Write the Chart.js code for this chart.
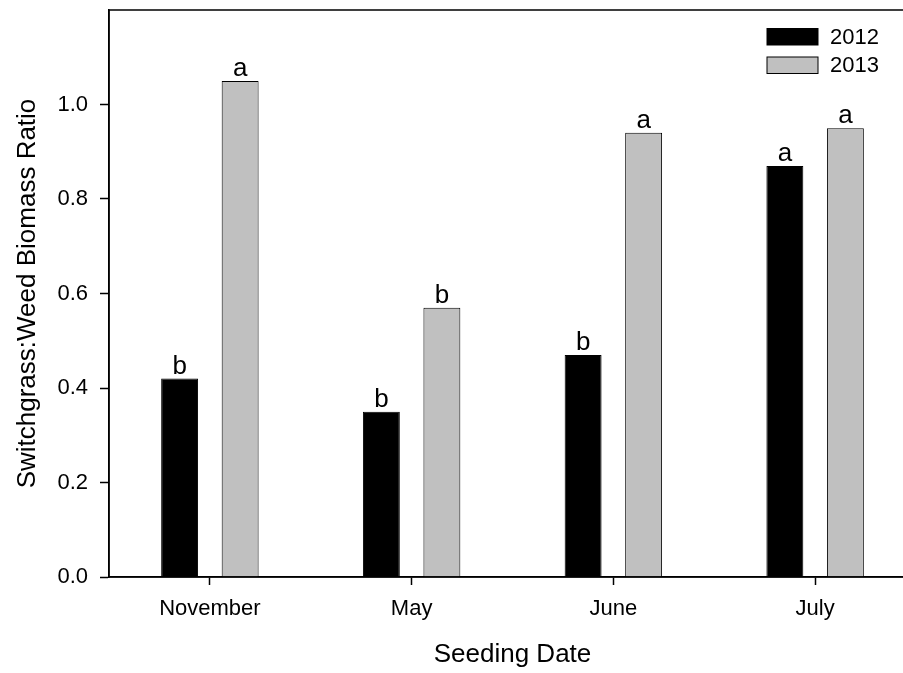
<!DOCTYPE html>
<html>
<head>
<meta charset="utf-8">
<script src="https://cdn.jsdelivr.net/npm/chart.js@4"></script>
<style>
  html, body { margin: 0; padding: 0; overflow: hidden; background: #fff; }
  canvas { display: block; }
</style>
</head>
<body>
<canvas id="myChart" width="920" height="673"></canvas>
<script>
const categories = ["November", "May", "June", "July"];
const values2012 = [0.42, 0.35, 0.47, 0.87];
const values2013 = [1.05, 0.57, 0.94, 0.95];
const letters2012 = ["b", "b", "b", "a"];
const letters2013 = ["a", "b", "a", "a"];
const yTicks = [0, 0.2, 0.4, 0.6, 0.8, 1.0];

const FONT = "'Liberation Sans', Arial, Helvetica, sans-serif";
const ctx = document.getElementById("myChart");

// letters over each bar + a small legend up in the corner + plot box
const extras = {
  id: "extras",
  afterDatasetsDraw(chart) {
    const c = chart.ctx;
    const letters = [letters2012, letters2013];
    c.save();
    c.fillStyle = "#000";
    c.font = "26px " + FONT;
    c.textAlign = "center";
    c.textBaseline = "alphabetic";
    chart.data.datasets.forEach((ds, i) => {
      chart.getDatasetMeta(i).data.forEach((bar, j) => {
        c.fillText(letters[i][j], bar.x, bar.y - 5);
      });
    });

    // plot frame
    const a = chart.chartArea;
    c.strokeStyle = "#000";
    c.lineWidth = 1.5;
    c.strokeRect(a.left, a.top, a.right - a.left, a.bottom - a.top);

    // legend
    c.font = "22px " + FONT;
    c.textAlign = "left";
    c.textBaseline = "middle";
    chart.data.datasets.forEach((ds, i) => {
      const y = 28.5 + i * 28.5;
      c.fillStyle = ds.backgroundColor;
      c.fillRect(767, y, 51, 16.5);
      c.lineWidth = 1;
      c.strokeStyle = "#000";
      c.strokeRect(767, y, 51, 16.5);
      c.fillStyle = "#000";
      c.fillText(ds.label, 830, y + 9);
    });
    c.restore();
  }
};

function createChart(type = "bar") {
  return new Chart(ctx, {
    type: type,
    data: {
      labels: categories,
      datasets: [
        {
          label: "2012",
          data: values2012,
          backgroundColor: "#000000",
          borderColor: "#000000",
          borderWidth: 1,
        },
        {
          label: "2013",
          data: values2013,
          backgroundColor: "#c0c0c0",
          borderColor: "#000000",
          borderWidth: 1,
        },
      ],
    },
    options: {
      responsive: false,
      animation: false,
      categoryPercentage: 0.6,
      barPercentage: 0.61,
      layout: { padding: { top: 10, right: 4, left: 0, bottom: 0 } },
      plugins: {
        legend: { display: false },
        tooltip: { enabled: false },
      },
      scales: {
        x: {
          afterFit: (s) => { s.height = 96; s.paddingLeft = 0; s.paddingRight = 0; },
          grid: {
            offset: false,
            drawOnChartArea: false,
            tickLength: 8,
            tickWidth: 1.5,
            tickColor: "#000",
          },
          border: { color: "#000", width: 1.5 },
          ticks: { color: "#000", font: { family: FONT, size: 22 }, padding: 11 },
          title: {
            display: true,
            text: "Seeding Date",
            color: "#000",
            font: { family: FONT, size: 26 },
            padding: { top: 0, bottom: 3 },
          },
        },
        y: {
          min: 0,
          max: 1.2,
          afterFit: (s) => { s.width = 109; s.paddingTop = 0; s.paddingBottom = 0; },
          afterBuildTicks: (s) => { s.ticks = yTicks.map((v) => ({ value: v })); },
          grid: {
            drawOnChartArea: false,
            tickLength: 9,
            tickWidth: 1.5,
            tickColor: "#000",
          },
          border: { color: "#000", width: 1.5 },
          ticks: {
            color: "#000",
            font: { family: FONT, size: 22 },
            padding: 12,
            callback: (v) => Number(v).toFixed(1),
          },
          title: {
            display: true,
            text: "Switchgrass:Weed Biomass Ratio",
            color: "#000",
            font: { family: FONT, size: 26 },
            padding: { top: 12, bottom: 0 },
          },
        },
      },
    },
    plugins: [extras],
  });
}

let x = createChart();
</script>
</body>
</html>
